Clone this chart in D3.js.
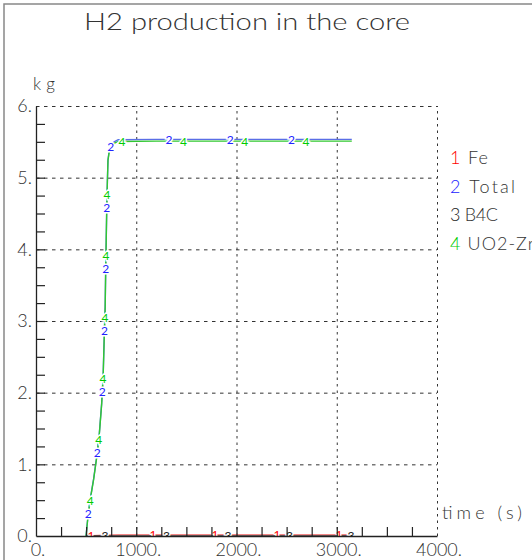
<!DOCTYPE html>
<html>
<head>
<meta charset="utf-8">
<script src="https://cdn.jsdelivr.net/npm/d3@7"></script>
<style>
  body { margin: 0; background: #fff; }
  text { font-family: Lato, "Liberation Sans", sans-serif; font-weight: 300; fill: #333; }
</style>
</head>
<body>
<svg id="chart" width="532" height="560"></svg>
<script>
// ---- data ----
const time   = [499, 520, 545, 575, 605, 630, 655, 670, 682, 690, 696, 700, 706, 712, 718, 730, 750, 780, 820, 1200, 3150];
const total  = [0, 0.30, 0.55, 0.80, 1.10, 1.40, 1.85, 2.25, 2.85, 3.20, 3.80, 4.10, 4.60, 4.95, 5.25, 5.37, 5.45, 5.50, 5.53, 5.535, 5.535];
const uo2Zr  = [0, 0.29, 0.54, 0.79, 1.09, 1.39, 1.84, 2.24, 2.84, 3.19, 3.79, 4.09, 4.59, 4.94, 5.24, 5.36, 5.44, 5.48, 5.505, 5.51, 5.51];
const feTime = [499, 560, 700, 820, 3150];
const fe     = [0, 0.005, 0.012, 0.015, 0.015];
const b4c    = [0, 0.001, 0.002, 0.002, 0.002];

const yLabels = [0, 1, 2, 3, 4, 5, 6];
const xLabels = [0, 1000, 2000, 3000, 4000];
const seriesNames = ["Fe", "Total", "B4C", "UO2-Zr"];
const seriesColors = ["#ff0000", "#2222ff", "#222222", "#00cc00"];
const lineColors = ["#f06060", "#5a6ee6", "#444444", "#30c830"];

const svg = d3.select("#chart");
const x = d3.scaleLinear().domain([0, 4000]).range([36, 437]);
const y = d3.scaleLinear().domain([0, 6]).range([536, 106]);

// outer frame
svg.append("rect")
    .attr("x", 4).attr("y", 4).attr("width", 600).attr("height", 600)
    .attr("fill", "none").attr("stroke", "#888").attr("stroke-width", 1.5);

// title
svg.append("text")
    .attr("x", 84).attr("y", 30)
    .attr("textLength", 326).attr("lengthAdjust", "spacingAndGlyphs")
    .style("font-size", "23px")
    .text("H2 production in the core");

// grid
svg.append("g")
    .attr("transform", "translate(36,0)")
    .call(d3.axisLeft(y).tickValues(yLabels.slice(1)).tickSize(-401).tickFormat(""))
    .call(g => g.select(".domain").remove())
    .selectAll("line")
    .attr("stroke", "#333").attr("stroke-dasharray", "3.5,4.5");

svg.append("g")
    .attr("transform", "translate(0,536)")
    .call(d3.axisBottom(x).tickValues(xLabels.slice(1)).tickSize(-430).tickFormat(""))
    .call(g => g.select(".domain").remove())
    .selectAll("line")
    .attr("stroke", "#333").attr("stroke-dasharray", "2.5,4");

// clip to plot area
svg.append("clipPath").attr("id", "plot")
    .append("rect").attr("x", 36).attr("y", 106).attr("width", 401).attr("height", 430);

const plot = svg.append("g").attr("clip-path", "url(#plot)");

// label spacing along each curve, in pixels of path length
const series = [
    {id: "1", t: feTime, v: fe, start: 5, step: 62},
    {id: "2", t: time, v: total, start: 23, step: 61.3},
    {id: "3", t: feTime, v: b4c, start: 19, step: 61.5},
    {id: "4", t: time, v: uo2Zr, start: 36, step: 61.3}
];

const line = d3.line()
    .x(d => x(d[0]))
    .y(d => y(d[1]));

// draw the lines first, labels later so they cut gaps in both
const paths = series.map((s, i) => {
    const pts = s.t.map((t, j) => [t, s.v[j]]);
    return plot.append("path")
        .datum(pts)
        .attr("d", line)
        .attr("fill", "none")
        .attr("stroke", lineColors[i])
        .attr("stroke-width", 1.4);
});

series.forEach((s, i) => {
    const node = paths[i].node();
    const len = node.getTotalLength();
    for (let d = s.start; d <= len; d += s.step) {
        const p = node.getPointAtLength(d);
        plot.append("text")
            .attr("x", p.x).attr("y", p.y)
            .attr("text-anchor", "middle")
            .attr("dominant-baseline", "central")
            .style("font-size", "12px")
            .style("font-weight", 400)
            .style("fill", seriesColors[i])
            .style("stroke", "#fff").style("stroke-width", 3)
            .style("paint-order", "stroke")
            .text(s.id);
    }
});

// axes: solid lines with inward minor ticks
svg.append("g")
    .attr("transform", "translate(36,0)")
    .call(d3.axisLeft(y).tickValues(d3.range(0.25, 6, 0.25)).tickSize(-9).tickSizeOuter(0).tickFormat(""))
    .call(g => g.select(".domain").attr("stroke", "#222").attr("stroke-width", 1.3))
    .selectAll("line").attr("stroke", "#222").attr("stroke-width", 1.2);

svg.append("g")
    .attr("transform", "translate(0,536)")
    .call(d3.axisBottom(x).tickValues(d3.range(250, 4000, 250)).tickSize(-9).tickSizeOuter(0).tickFormat(""))
    .call(g => g.select(".domain").attr("stroke", "#222").attr("stroke-width", 1.3))
    .selectAll("line").attr("stroke", "#222").attr("stroke-width", 1.2);

// tick labels
svg.append("g")
    .attr("transform", "translate(32,0)")
    .call(d3.axisLeft(y).tickValues(yLabels).tickSize(0).tickPadding(0).tickFormat(d => d + "."))
    .call(g => g.select(".domain").remove())
    .selectAll("text")
    .style("font-size", "18px").style("font-family", null)
    .attr("fill", null);

svg.append("g")
    .attr("transform", "translate(1.5,543)")
    .call(d3.axisBottom(x).tickValues(xLabels).tickSize(0).tickPadding(0).tickFormat(d => d + "."))
    .call(g => g.select(".domain").remove())
    .selectAll("text")
    .style("font-size", "18px").style("font-family", null)
    .attr("fill", null);

// unit labels
svg.append("text").attr("x", 33).attr("y", 90)
    .attr("textLength", 22).attr("lengthAdjust", "spacing")
    .style("font-size", "17px").text("kg");
svg.append("text").attr("x", 442).attr("y", 519)
    .attr("textLength", 80).attr("lengthAdjust", "spacing")
    .style("font-size", "18px").text("time (s)");

// legend
const legendWidths = [38, 65, 48, 84];
const legend = svg.append("g").attr("transform", "translate(450,164)");
seriesNames.forEach((name, i) => {
    const row = legend.append("text")
        .attr("x", 0).attr("y", i * 28.7)
        .attr("textLength", legendWidths[i]).attr("lengthAdjust", "spacing")
        .style("font-size", "18px");
    row.append("tspan").style("fill", seriesColors[i]).text(series[i].id);
    row.append("tspan").text(" " + name);
});
</script>
</body>
</html>
